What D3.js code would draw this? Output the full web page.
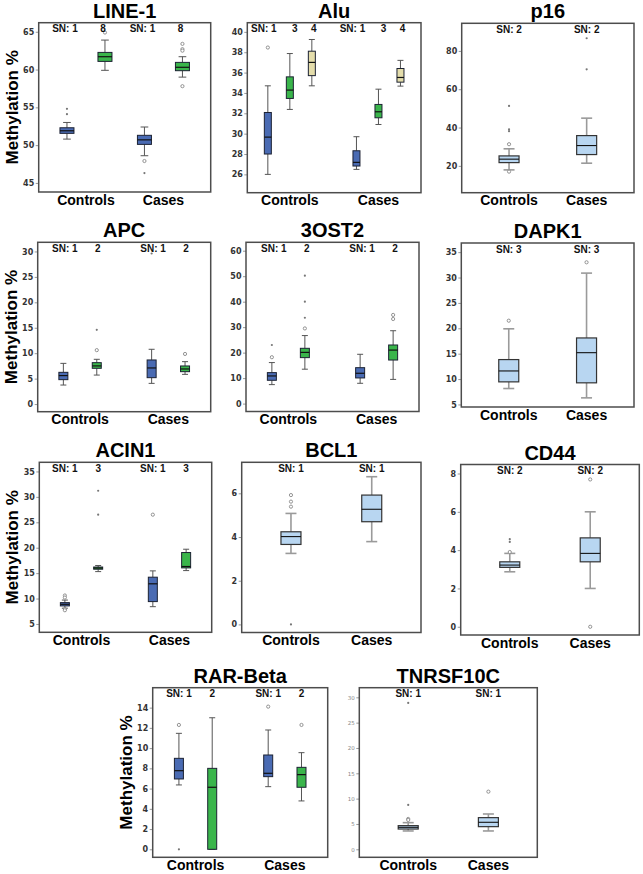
<!DOCTYPE html>
<html><head><meta charset="utf-8">
<script src="https://cdn.jsdelivr.net/npm/d3@7"></script>
<style>body{margin:0;background:#fff}</style>
</head><body><svg id="c" width="643" height="874"></svg>
<script>
const groups = ["Controls", "Cases"];
// Box stats rows: [group, seriesIndex, whiskerLow, q1, median, q3, whiskerHigh]
// Outlier rows: [group, seriesIndex, value, kind]  kind: "o" = circle, "*" = extreme
const line1Boxes = [
  ["Controls",0,50.8,51.56,51.9,52.3,53.0],
  ["Controls",1,59.9,61.08,61.7,62.27,63.9],
  ["Cases",0,48.6,50.1,50.7,51.3,52.4],
  ["Cases",1,59.0,59.85,60.3,60.95,61.7]];
const line1Outliers = [["Controls",0,54.1,"*"],["Controls",0,54.8,"*"],["Controls",1,64.9,"o"],
  ["Cases",0,47.9,"o"],["Cases",0,46.3,"*"],["Cases",1,63.4,"o"],["Cases",1,62.7,"o"],["Cases",1,62.5,"o"],["Cases",1,57.8,"o"]];
const line1Ticks = [45,50,55,60,65];
const line1SN = ["SN: 1","8"];

const aluBoxes = [
  ["Controls",0,26.0,28.0,29.66,32.08,34.7],
  ["Controls",1,32.38,33.46,34.28,35.58,37.87],
  ["Controls",2,34.7,35.7,37.0,38.1,39.25],
  ["Cases",0,26.49,26.82,27.18,28.32,29.7],
  ["Cases",1,30.9,31.56,32.15,32.87,34.37],
  ["Cases",2,34.67,35.06,35.52,36.4,37.2]];
const aluOutliers = [["Controls",0,38.46,"o"]];
const aluTicks = [26,28,30,32,34,36,38,40];
const aluSN = ["SN: 1","3","4"];

const p16Boxes = [
  ["Controls",0,17.9,21.7,23.5,25.2,28.9],
  ["Cases",0,21.4,25.9,30.6,35.8,44.9]];
const p16Outliers = [["Controls",0,51.3,"*"],["Controls",0,39.1,"*"],["Controls",0,38.1,"*"],["Controls",0,31.3,"o"],["Controls",0,17.0,"o"],
  ["Cases",0,70.4,"*"],["Cases",0,86.6,"*"]];
const p16Ticks = [20,40,60,80];
const p16SN = ["SN: 2"];

const apcBoxes = [
  ["Controls",0,3.74,4.8,5.6,6.24,8.0],
  ["Controls",1,5.7,7.03,7.5,8.14,8.8],
  ["Cases",0,4.07,5.19,7.1,8.67,10.77],
  ["Cases",1,5.84,6.37,6.9,7.49,8.34]];
const apcOutliers = [["Controls",1,14.6,"*"],["Controls",1,10.6,"o"],["Cases",0,29.6,"*"],["Cases",1,9.85,"o"]];
const apcTicks = [0,5,10,15,20,25,30];
const apcSN = ["SN: 1","2"];

const ost2Boxes = [
  ["Controls",0,7.45,9.15,10.85,12.16,16.1],
  ["Controls",1,13.5,18.04,20.1,21.7,26.7],
  ["Cases",0,7.97,10.07,11.9,14.1,19.35],
  ["Cases",1,9.5,17.1,21.0,23.0,28.6]];
const ost2Outliers = [["Controls",0,18.2,"o"],["Controls",0,23.0,"*"],
  ["Controls",1,29.5,"o"],["Controls",1,33.7,"*"],["Controls",1,40.0,"*"],["Controls",1,50.2,"*"],
  ["Cases",1,33.2,"o"],["Cases",1,34.8,"o"]];
const ost2Ticks = [0,10,20,30,40,50,60];
const ost2SN = ["SN: 1","2"];

const dapk1Boxes = [
  ["Controls",0,8.14,9.45,11.6,13.84,19.9],
  ["Cases",0,6.3,9.26,15.2,18.1,30.87]];
const dapk1Outliers = [["Controls",0,21.5,"o"],["Cases",0,33.0,"o"]];
const dapk1Ticks = [5,10,15,20,25,30,35];
const dapk1SN = ["SN: 3"];

const acin1Boxes = [
  ["Controls",0,8.1,8.55,8.87,9.2,9.7],
  ["Controls",1,15.3,15.77,16.0,16.2,16.5],
  ["Cases",0,8.4,9.4,12.9,14.2,15.44],
  ["Cases",1,15.5,16.03,16.3,19.05,19.7]];
const acin1Outliers = [["Controls",0,10.6,"o"],["Controls",0,10.2,"o"],["Controls",0,7.95,"o"],["Controls",0,7.7,"o"],
  ["Controls",1,31.2,"*"],["Controls",1,26.5,"*"],["Cases",0,26.5,"o"]];
const acin1Ticks = [5,10,15,20,25,30,35];
const acin1SN = ["SN: 1","3"];

const bcl1Boxes = [
  ["Controls",0,3.25,3.66,4.02,4.24,5.08],
  ["Cases",0,3.79,4.7,5.27,5.92,6.76]];
const bcl1Outliers = [["Controls",0,5.92,"o"],["Controls",0,5.62,"o"],["Controls",0,5.39,"o"],["Controls",0,0,"*"]];
const bcl1Ticks = [0,2,4,6];
const bcl1SN = ["SN: 1"];

const cd44Boxes = [
  ["Controls",0,2.87,3.1,3.22,3.39,3.83],
  ["Cases",0,2.0,3.39,3.83,4.64,6.0]];
const cd44Outliers = [["Controls",0,3.9,"o"],["Controls",0,4.43,"*"],["Controls",0,4.57,"*"],["Cases",0,7.69,"o"],["Cases",0,0,"o"]];
const cd44Ticks = [0,2,4,6,8];
const cd44SN = ["SN: 2"];

const rarBoxes = [
  ["Controls",0,6.36,6.95,7.77,8.99,11.46],
  ["Controls",1,0,0,6.13,8.0,13.0],
  ["Cases",0,6.19,7.18,7.51,9.32,11.79],
  ["Cases",1,4.78,6.13,7.38,8.1,9.55]];
const rarOutliers = [["Controls",0,12.29,"o"],["Controls",0,0,"*"],["Cases",0,14.1,"o"],["Cases",1,12.29,"o"]];
const rarTicks = [0,2,4,6,8,10,12,14];
const rarSN = ["SN: 1","2"];

const tnrBoxes = [
  ["Controls",0,3.62,4.0,4.34,4.67,5.26],
  ["Cases",0,3.62,4.47,5.33,6.25,6.97]];
const tnrOutliers = [["Controls",0,28.9,"*"],["Controls",0,8.75,"*"],["Controls",0,5.99,"o"],["Controls",0,5.79,"o"],["Cases",0,11.38,"o"]];
const tnrTicks = [0,5,10,15,20,25,30];
const tnrSN = ["SN: 1"];

// ---- layout / style (not data) ----
const colors = {blue:"#4a6bb3", green:"#3ab54b", tan:"#e4ddab", light:"#b8d6f1"};
const panels = [
  {title:"LINE-1", boxes:line1Boxes, outliers:line1Outliers, ticks:line1Ticks, sn:line1SN, snShift:[-2,-2], series:["blue","green"], frame:[38.7,22.7,210.7,192], domain:[43.8,66.2], pad:0.61, spacing:38, bw:14, ylabel:true},
  {title:"Alu", boxes:aluBoxes, outliers:aluOutliers, ticks:aluTicks, sn:aluSN, snShift:[-4,5,2], series:["blue","green","tan"], frame:[247.3,22.7,421,192.7], domain:[24.2,40.9], pad:0.48, spacing:22, bw:7},
  {title:"p16", boxes:p16Boxes, outliers:p16Outliers, ticks:p16Ticks, sn:p16SN, series:["light"], frame:[461.7,23.3,634,192.7], domain:[6,94.4], pad:0.61, spacing:0, bw:20},
  {title:"APC", boxes:apcBoxes, outliers:apcOutliers, ticks:apcTicks, sn:apcSN, snShift:[1.5,1], series:["blue","green"], frame:[37.7,242.3,210.7,411.7], domain:[-1.5,31.8], pad:0.48, spacing:33.4, bw:9, ylabel:true},
  {title:"3OST2", boxes:ost2Boxes, outliers:ost2Outliers, ticks:ost2Ticks, sn:ost2SN, snShift:[2,2], series:["blue","green"], frame:[246,242.3,419,411.5], domain:[-3.1,63.3], pad:0.48, spacing:33, bw:9},
  {title:"DAPK1", boxes:dapk1Boxes, outliers:dapk1Outliers, ticks:dapk1Ticks, sn:dapk1SN, series:["light"], frame:[461.3,243,634,407], domain:[4.5,36.8], pad:0.61, spacing:0, bw:20},
  {title:"ACIN1", boxes:acin1Boxes, outliers:acin1Outliers, ticks:acin1Ticks, sn:acin1SN, series:["blue","green"], frame:[39.3,462.3,211.7,632.3], domain:[3.36,36.8], pad:0.48, spacing:33.3, bw:9, ylabel:true},
  {title:"BCL1", boxes:bcl1Boxes, outliers:bcl1Outliers, ticks:bcl1Ticks, sn:bcl1SN, series:["light"], frame:[241.7,462.3,421,632.5], domain:[-0.37,7.42], pad:0.61, spacing:0, bw:20},
  {title:"CD44", boxes:cd44Boxes, outliers:cd44Outliers, ticks:cd44Ticks, sn:cd44SN, series:["light"], frame:[460.7,464.5,639.3,635], domain:[-0.43,8.47], pad:0.61, spacing:0, bw:20},
  {title:"RAR-Beta", boxes:rarBoxes, outliers:rarOutliers, ticks:rarTicks, sn:rarSN, series:["blue","green"], frame:[152.7,687.7,327.7,857.3], domain:[-0.79,15.97], pad:0.48, spacing:33.3, bw:9, ylabel:true},
  {title:"TNRSF10C", boxes:tnrBoxes, outliers:tnrOutliers, ticks:tnrTicks, sn:tnrSN, series:["light"], frame:[359.3,687.7,537.3,857.3], domain:[-1.58,31.9], pad:0.61, spacing:0, bw:20, tinyTicks:true}
];

const FONT = "'Liberation Sans', Arial, sans-serif";
const svg = d3.select("#c");
svg.append("rect").attr("width",643).attr("height",874).attr("fill","#fff");

panels.forEach(p => {
  const [x0,y0,x1,y1] = p.frame;
  const single = p.series.length === 1;
  const g = svg.append("g");
  const y = d3.scaleLinear().domain(p.domain).range([y1,y0]);
  const x = d3.scalePoint().domain(groups).range([x0,x1]).padding(p.pad);
  const n = p.series.length;
  const xs = d3.scalePoint().domain(d3.range(n)).range([-p.spacing*(n-1)/2, p.spacing*(n-1)/2]);
  const cx = (grp,s) => x(grp) + xs(s);
  const shift = p.snShift || [0];

  // y axis
  const ax = d3.axisLeft(y).tickValues(p.ticks).tickSize(3).tickPadding(1.5).tickFormat(d3.format("d"));
  const axg = g.append("g").attr("transform",`translate(${x0},0)`).call(ax);
  axg.select(".domain").remove();
  axg.selectAll(".tick line").attr("stroke","#999");
  axg.selectAll(".tick text")
    .attr("font-family","'DejaVu Sans', Verdana, sans-serif")
    .attr("font-weight", p.tinyTicks ? "normal" : "bold")
    .attr("font-size", p.tinyTicks ? 5.5 : 8)
    .attr("fill", p.tinyTicks ? "#888" : "#333");

  // boxes
  const bw = p.bw, cap = Math.max(6, bw*0.55);
  const whiskColor = single ? "#9a9a9a" : "#555";
  const whiskW = single ? 1.6 : 1;
  p.boxes.forEach(b => {
    const [grp,s,lo,q1,med,q3,hi] = b;
    const c = cx(grp,s);
    const bg = g.append("g");
    bg.append("line").attr("x1",c).attr("x2",c).attr("y1",y(hi)).attr("y2",y(q3)).attr("stroke",whiskColor).attr("stroke-width",whiskW);
    bg.append("line").attr("x1",c).attr("x2",c).attr("y1",y(q1)).attr("y2",y(lo)).attr("stroke",whiskColor).attr("stroke-width",whiskW);
    [hi,lo].forEach(v => bg.append("line").attr("x1",c-cap/2).attr("x2",c+cap/2).attr("y1",y(v)).attr("y2",y(v)).attr("stroke",whiskColor).attr("stroke-width",whiskW));
    bg.append("rect").attr("x",c-bw/2).attr("y",y(q3)).attr("width",bw).attr("height",Math.max(0.5,y(q1)-y(q3)))
      .attr("fill",colors[p.series[s]]).attr("stroke", single ? "#333" : "#1c2233").attr("stroke-width", single ? 1.2 : 1);
    bg.append("line").attr("x1",c-bw/2).attr("x2",c+bw/2).attr("y1",y(med)).attr("y2",y(med)).attr("stroke","#111").attr("stroke-width", single ? 1.1 : 1.2);
  });

  // outliers
  p.outliers.forEach(o => {
    const [grp,s,v,kind] = o;
    const c = cx(grp,s);
    if (kind === "o") {
      g.append("circle").attr("cx",c).attr("cy",y(v)).attr("r",1.6).attr("fill","#fff").attr("stroke","#888").attr("stroke-width",0.9);
    } else {
      g.append("circle").attr("cx",c).attr("cy",y(v)).attr("r",1.1).attr("fill","#777");
    }
  });

  // frame
  g.append("rect").attr("x",x0).attr("y",y0).attr("width",x1-x0).attr("height",y1-y0)
    .attr("fill","none").attr("stroke","#4d4d4d").attr("stroke-width",1.5);

  // SN labels and group labels
  groups.forEach(grp => {
    p.sn.forEach((t,s) => {
      g.append("text").attr("x",cx(grp,s) + (shift[s] || 0)).attr("y",y0+9.5).attr("text-anchor","middle")
        .attr("font-family",FONT).attr("font-weight","bold").attr("font-size",10).attr("fill","#111").text(t);
    });
    g.append("text").attr("x",x(grp)).attr("y",y1+12.5).attr("text-anchor","middle")
      .attr("font-family",FONT).attr("font-weight","bold").attr("font-size",14).attr("fill","#000").text(grp);
  });

  // title
  g.append("text").attr("x",(x0+x1)/2).attr("y",y0-5).attr("text-anchor","middle")
    .attr("font-family",FONT).attr("font-weight","bold").attr("font-size",20).attr("fill","#000").text(p.title);

  if (p.ylabel) {
    g.append("text").attr("transform",`translate(${x0-21},${(y0+y1)/2}) rotate(-90)`).attr("text-anchor","middle")
      .attr("font-family",FONT).attr("font-weight","bold").attr("font-size",17).attr("fill","#000").text("Methylation %");
  }
});
</script></body></html>
